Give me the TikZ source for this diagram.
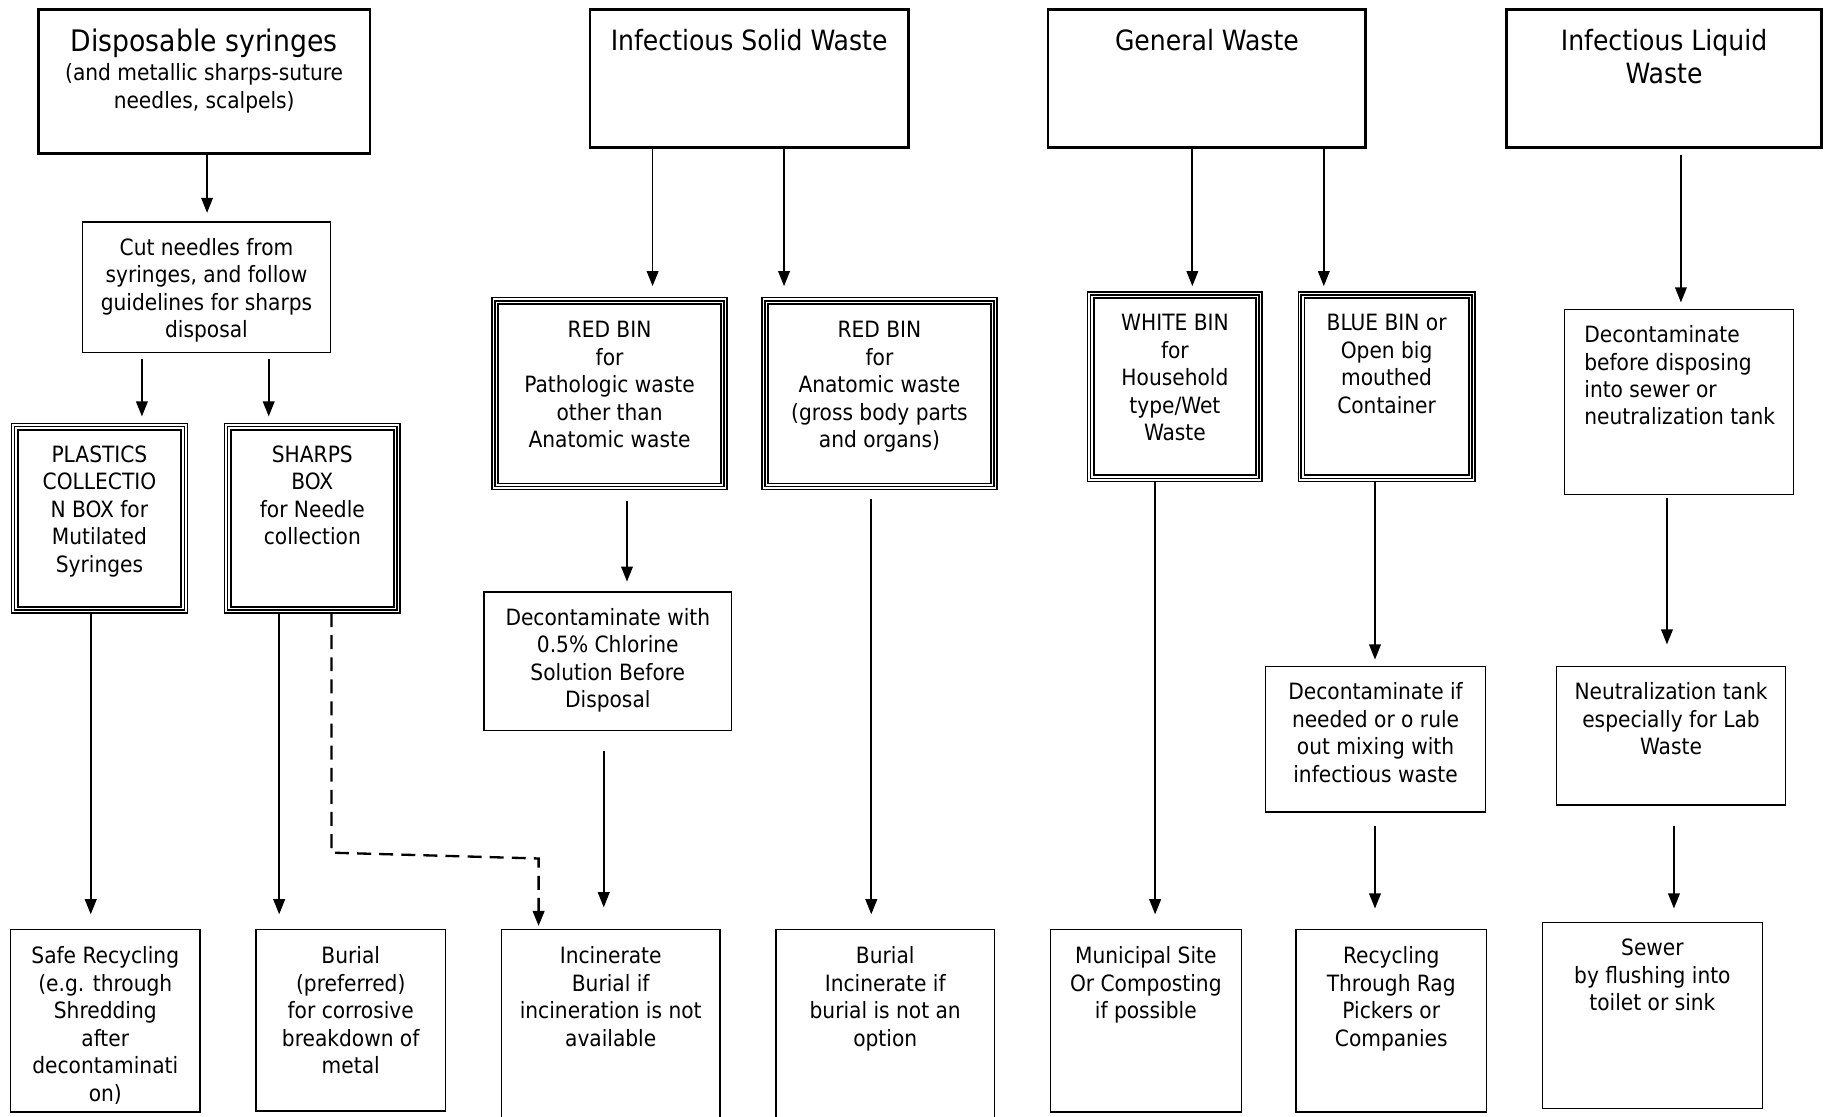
\documentclass[tikz,border=0pt]{standalone}
\usepackage{fontspec}
\setmainfont{DejaVu Sans Condensed}
\usetikzlibrary{arrows.meta}
\newcommand\bodyf{\fontsize{19.3}{23.6}\selectfont}
\newcommand\titf{\fontsize{24}{29}\selectfont}
\newcommand\titbig{\fontsize{25.5}{29}\selectfont}
% #1 width, #2 height, #3 first baseline, #4 text
\newcommand\bxt[4]{\parbox[t][#2pt][t]{#1pt}{\centering\rule{0pt}{#3pt}#4}}
\newcommand\bxl[5]{\parbox[t][#2pt][t]{#1pt}{\raggedright\leftskip=#4pt\rule{0pt}{#3pt}#5}}
\begin{document}
\begin{tikzpicture}[x=1pt,y=-1pt,
  base/.style={inner sep=0pt, outer sep=0pt, anchor=north west, font=\bodyf},
  topbox/.style={base, draw, line width=2.2pt},
  plainbox/.style={base, draw, line width=1.2pt},
  binbox/.style={base, draw, line width=1.2pt,
    append after command={
      \pgfextra{\draw[line width=1.3pt] ([shift={(2.6pt,-2.6pt)}]\tikzlastnode.north west) rectangle ([shift={(-2.6pt,2.6pt)}]\tikzlastnode.south east);
      \draw[line width=1.5pt] ([shift={(5.4pt,-5.4pt)}]\tikzlastnode.north west) rectangle ([shift={(-5.4pt,5.4pt)}]\tikzlastnode.south east);}}},
  arr/.style={line width=1.5pt, -{Triangle[length=13pt,width=10pt]}},
  dsh/.style={line width=2pt, -{Triangle[length=13pt,width=10pt]}, dash pattern=on 12pt off 7pt}]
\useasboundingbox (0,0) rectangle (1568,960);

% top boxes
\node[topbox] (dis) at (33,8) {\bxt{285}{124}{36}{{\titbig Disposable syringes}\\[2pt](and metallic sharps-suture\\needles, scalpels)}};
\node[topbox, font=\titf] (solid) at (507,8) {\bxt{274}{119}{35}{Infectious Solid Waste}};
\node[topbox, font=\titf] (general) at (901,8) {\bxt{273}{119}{35}{General Waste}};
\node[topbox, font=\titf] (liquid) at (1295,8) {\bxt{271}{119}{35}{Infectious Liquid\\Waste}};

% second level
\node[plainbox] (cut) at (71,191) {\bxt{213}{112}{28.5}{Cut needles from\\syringes, and follow\\guidelines for sharps\\disposal}};
\node[binbox] (plast) at (10,364) {\bxt{151}{163}{33.5}{PLASTICS\\COLLECTIO\\N BOX for\\Mutilated\\Syringes}};
\node[binbox] (sharps) at (193,364) {\bxt{151}{163}{33.5}{SHARPS\\BOX\\for Needle\\collection}};
\node[binbox] (red1) at (423,256) {\bxt{202}{165}{34.5}{RED BIN\\for\\Pathologic waste\\other than\\Anatomic waste}};
\node[binbox] (red2) at (655,256) {\bxt{202}{165}{34.5}{RED BIN\\for\\Anatomic waste\\(gross body parts\\and organs)}};
\node[plainbox] (decon1) at (416,509) {\bxt{213}{119}{28.5}{Decontaminate with\\0.5\% Chlorine\\Solution Before\\Disposal}};
\node[binbox] (white) at (935,251) {\bxt{150}{163}{33.5}{WHITE BIN\\for\\Household\\type/Wet\\Waste}};
\node[binbox] (blue) at (1116,251) {\bxt{152}{163}{33.5}{BLUE BIN or\\Open big\\mouthed\\Container}};
\node[plainbox] (decon2) at (1088,573) {\bxt{189}{125}{28.5}{Decontaminate if\\needed or o rule\\out mixing with\\infectious waste}};
\node[plainbox] (decon3) at (1345,266) {\bxl{197}{159}{28.5}{17}{Decontaminate\\before disposing\\into sewer or\\neutralization tank}};
\node[plainbox] (neut) at (1338,573) {\bxt{197}{119}{28.5}{Neutralization tank\\especially for Lab\\Waste}};

% bottom boxes
\node[plainbox] (safe) at (9,799) {\bxt{163}{157}{29.5}{Safe Recycling\\(e.g. through\\Shredding\\after\\decontaminati\\on)}};
\node[plainbox] (bur1) at (220,799) {\bxt{163}{156}{29.5}{Burial\\(preferred)\\for corrosive\\breakdown of\\metal}};
\node[plainbox] (incin) at (431,799) {\bxt{188}{170}{29.5}{Incinerate\\Burial if\\incineration is not\\available}};
\node[plainbox] (bur2) at (667,799) {\bxt{188}{170}{29.5}{Burial\\Incinerate if\\burial is not an\\option}};
\node[plainbox] (muni) at (903,799) {\bxt{164}{157}{29.5}{Municipal Site\\Or Composting\\if possible}};
\node[plainbox] (recyc) at (1114,799) {\bxt{164}{157}{29.5}{Recycling\\Through Rag\\Pickers or\\Companies}};
\node[plainbox] (sewer) at (1326,793) {\bxt{189}{160}{28.5}{Sewer\\by flushing into\\toilet or sink}};

% arrows
\draw[arr, shorten >=8pt] ([xshift=145pt]dis.south west) -- ([xshift=107pt]cut.north west);
\draw[arr, shorten <=6pt, shorten >=6pt] ([xshift=51pt]cut.south west) -- ([xshift=112pt]plast.north west);
\draw[arr, shorten <=6pt, shorten >=6pt] ([xshift=160pt]cut.south west) -- ([xshift=38pt]sharps.north west);
\draw[arr, shorten >=13pt] ([xshift=68pt]plast.south west) -- ([xshift=69pt]safe.north west);
\draw[arr, shorten >=13pt] ([xshift=47pt]sharps.south west) -- ([xshift=20pt]bur1.north west);
\draw[dsh, shorten >=3pt] ([xshift=92pt]sharps.south west) -- ++(0,206) -- ++(178,5) -- ([xshift=32pt]incin.north west);

\draw[arr, shorten >=10pt] ([xshift=54pt]solid.south west) -- ([xshift=138pt]red1.north west);
\draw[arr, shorten >=10pt] ([xshift=167pt]solid.south west) -- ([xshift=19pt]red2.north west);
\draw[arr, shorten <=10pt, shorten >=9pt] ([xshift=116pt]red1.south west) -- ([xshift=123pt]decon1.north west);
\draw[arr, shorten <=18pt, shorten >=19pt] ([xshift=103pt]decon1.south west) -- ([xshift=88pt]incin.north west);
\draw[arr, shorten <=8pt, shorten >=13pt] ([xshift=94pt]red2.south west) -- ([xshift=82pt]bur2.north west);

\draw[arr, shorten >=5pt] ([xshift=124pt]general.south west) -- ([xshift=90pt]white.north west);
\draw[arr, shorten >=5pt] ([xshift=237pt]general.south west) -- ([xshift=22pt]blue.north west);
\draw[arr, shorten >=13pt] ([xshift=58pt]white.south west) -- ([xshift=90pt]muni.north west);
\draw[arr, shorten >=6pt] ([xshift=66pt]blue.south west) -- ([xshift=94pt]decon2.north west);
\draw[arr, shorten <=12pt, shorten >=18pt] ([xshift=94pt]decon2.south west) -- ([xshift=68pt]recyc.north west);

\draw[arr, shorten <=6pt, shorten >=6pt] ([xshift=150pt]liquid.south west) -- ([xshift=100pt]decon3.north west);
\draw[arr, shorten <=3pt, shorten >=19pt] ([xshift=88pt]decon3.south west) -- ([xshift=95pt]neut.north west);
\draw[arr, shorten <=18pt, shorten >=12pt] ([xshift=101pt]neut.south west) -- ([xshift=113pt]sewer.north west);
\end{tikzpicture}
\end{document}
